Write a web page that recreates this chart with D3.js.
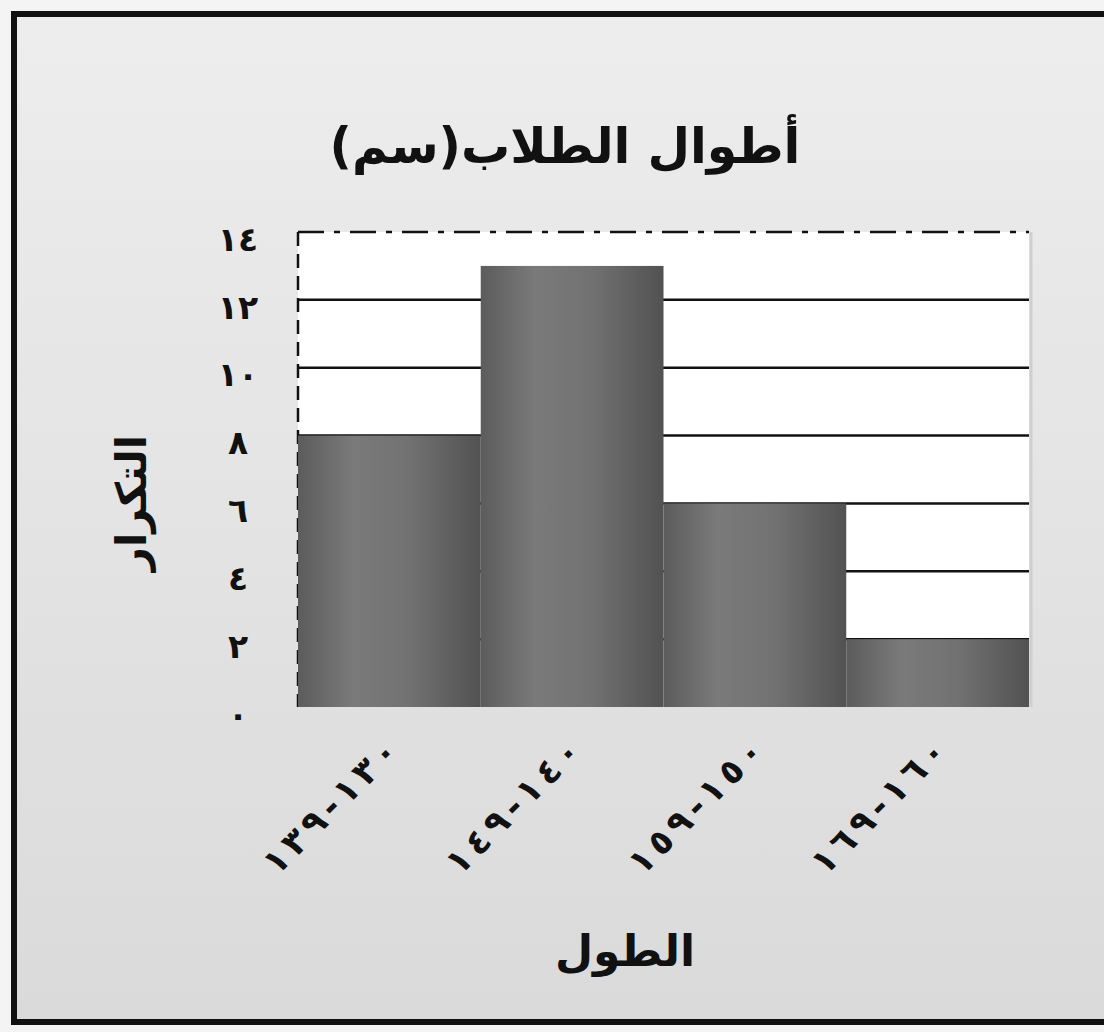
<!DOCTYPE html>
<html>
<head>
<meta charset="utf-8">
<script src="https://cdn.jsdelivr.net/npm/d3@7"></script>
<style>
  html, body { margin: 0; padding: 0; background: #ffffff; }
  svg { display: block; }
  text { font-family: "DejaVu Sans", sans-serif; font-weight: bold; fill: #111; }
</style>
</head>
<body>
<svg id="chart" width="1104" height="1032"></svg>
<script>
// ---- data ----
const categories = ["١٣٠-١٣٩", "١٤٠-١٤٩", "١٥٠-١٥٩", "١٦٠-١٦٩"];
const frequencies = [8, 13, 6, 2];
const yTickValues = [0, 2, 4, 6, 8, 10, 12, 14];
const yTickLabels = ["٠", "٢", "٤", "٦", "٨", "١٠", "١٢", "١٤"];
const titleText = "أطوال الطلاب(سم)";
const xAxisTitle = "الطول";
const yAxisTitle = "التكرار";

// ---- layout ----
const W = 1104, H = 1032;
const plot = { left: 298, right: 1029, top: 232, bottom: 707 };

const svg = d3.select("#chart");
const defs = svg.append("defs");

const bgGrad = defs.append("linearGradient").attr("id", "bgGrad")
  .attr("x1", 0).attr("y1", 0).attr("x2", 0).attr("y2", 1);
bgGrad.append("stop").attr("offset", "0%").attr("stop-color", "#ededed");
bgGrad.append("stop").attr("offset", "100%").attr("stop-color", "#dadada");

const barGrad = defs.append("linearGradient").attr("id", "barGrad")
  .attr("x1", 0).attr("y1", 0).attr("x2", 1).attr("y2", 0);
barGrad.append("stop").attr("offset", "0%").attr("stop-color", "#5c5c5c");
barGrad.append("stop").attr("offset", "30%").attr("stop-color", "#7a7a7a");
barGrad.append("stop").attr("offset", "60%").attr("stop-color", "#727272");
barGrad.append("stop").attr("offset", "100%").attr("stop-color", "#525252");

// frame background + border (right border falls outside the picture)
svg.append("rect").attr("x", 0).attr("y", 0).attr("width", W).attr("height", H).attr("fill", "#f4f4f4");
svg.append("rect").attr("x", 14).attr("y", 14).attr("width", W + 20).attr("height", 1008)
  .attr("fill", "url(#bgGrad)").attr("stroke", "#111").attr("stroke-width", 6);

// scales
const x = d3.scaleBand().domain(categories).range([plot.left, plot.right]).padding(0);
const y = d3.scaleLinear().domain([0, 14]).range([plot.bottom, plot.top]);

// plot background
svg.append("rect")
  .attr("x", plot.left).attr("y", plot.top)
  .attr("width", plot.right - plot.left).attr("height", plot.bottom - plot.top)
  .attr("fill", "#ffffff");
svg.append("line")
  .attr("x1", plot.right + 2).attr("x2", plot.right + 2)
  .attr("y1", plot.top).attr("y2", plot.bottom)
  .attr("stroke", "#cfcfcf").attr("stroke-width", 3);

// gridlines
const gridVals = yTickValues.filter(v => v > 0 && v < 14);
svg.append("g").selectAll("line").data(gridVals).join("line")
  .attr("x1", plot.left).attr("x2", plot.right)
  .attr("y1", d => y(d)).attr("y2", d => y(d))
  .attr("stroke", "#111").attr("stroke-width", 2.5);
svg.append("line")
  .attr("x1", plot.left).attr("x2", plot.right)
  .attr("y1", y(14)).attr("y2", y(14))
  .attr("stroke", "#111").attr("stroke-width", 2.5)
  .attr("stroke-dasharray", "26 10 6 10");

// left axis (dashed)
svg.append("line")
  .attr("x1", plot.left).attr("x2", plot.left)
  .attr("y1", plot.top).attr("y2", plot.bottom)
  .attr("stroke", "#111").attr("stroke-width", 2.5)
  .attr("stroke-dasharray", "14 8");

// bars
svg.append("g").selectAll("rect").data(categories).join("rect")
  .attr("x", d => x(d))
  .attr("y", (d, i) => y(frequencies[i]))
  .attr("width", x.bandwidth())
  .attr("height", (d, i) => y(0) - y(frequencies[i]))
  .attr("fill", "url(#barGrad)");

// y axis labels
const yAxis = d3.axisLeft(y).tickValues(yTickValues)
  .tickFormat((d, i) => yTickLabels[i]).tickSize(0);
const gy = svg.append("g").attr("transform", `translate(${plot.left},0)`).call(yAxis);
gy.select(".domain").remove();
gy.selectAll("text")
  .attr("x", -60).attr("dy", "0.55em")
  .attr("text-anchor", "middle")
  .style("font-size", "33px").style("font-family", "DejaVu Sans").style("font-weight", "bold")
  .attr("fill", "#111");

// x axis labels
const xAxis = d3.axisBottom(x).tickSize(0);
const gx = svg.append("g").attr("transform", `translate(0,${plot.bottom})`).call(xAxis);
gx.select(".domain").remove();
gx.selectAll("text")
  .attr("x", 0).attr("y", 0).attr("dy", "0.35em")
  .attr("transform", "translate(2,38) rotate(-45)")
  .attr("text-anchor", "end")
  .attr("textLength", 174).attr("lengthAdjust", "spacing")
  .style("font-size", "35px").style("font-family", "DejaVu Sans").style("font-weight", "bold")
  .attr("fill", "#111");

// title
svg.append("text").attr("x", 565).attr("y", 163)
  .attr("text-anchor", "middle").style("font-size", "49px").text(titleText);

// axis titles
svg.append("text").attr("x", 625).attr("y", 966)
  .attr("text-anchor", "middle").style("font-size", "44px").text(xAxisTitle);
svg.append("text")
  .attr("transform", "translate(146,503) rotate(-90)")
  .attr("text-anchor", "middle").style("font-size", "42px").text(yAxisTitle);
</script>
</body>
</html>
